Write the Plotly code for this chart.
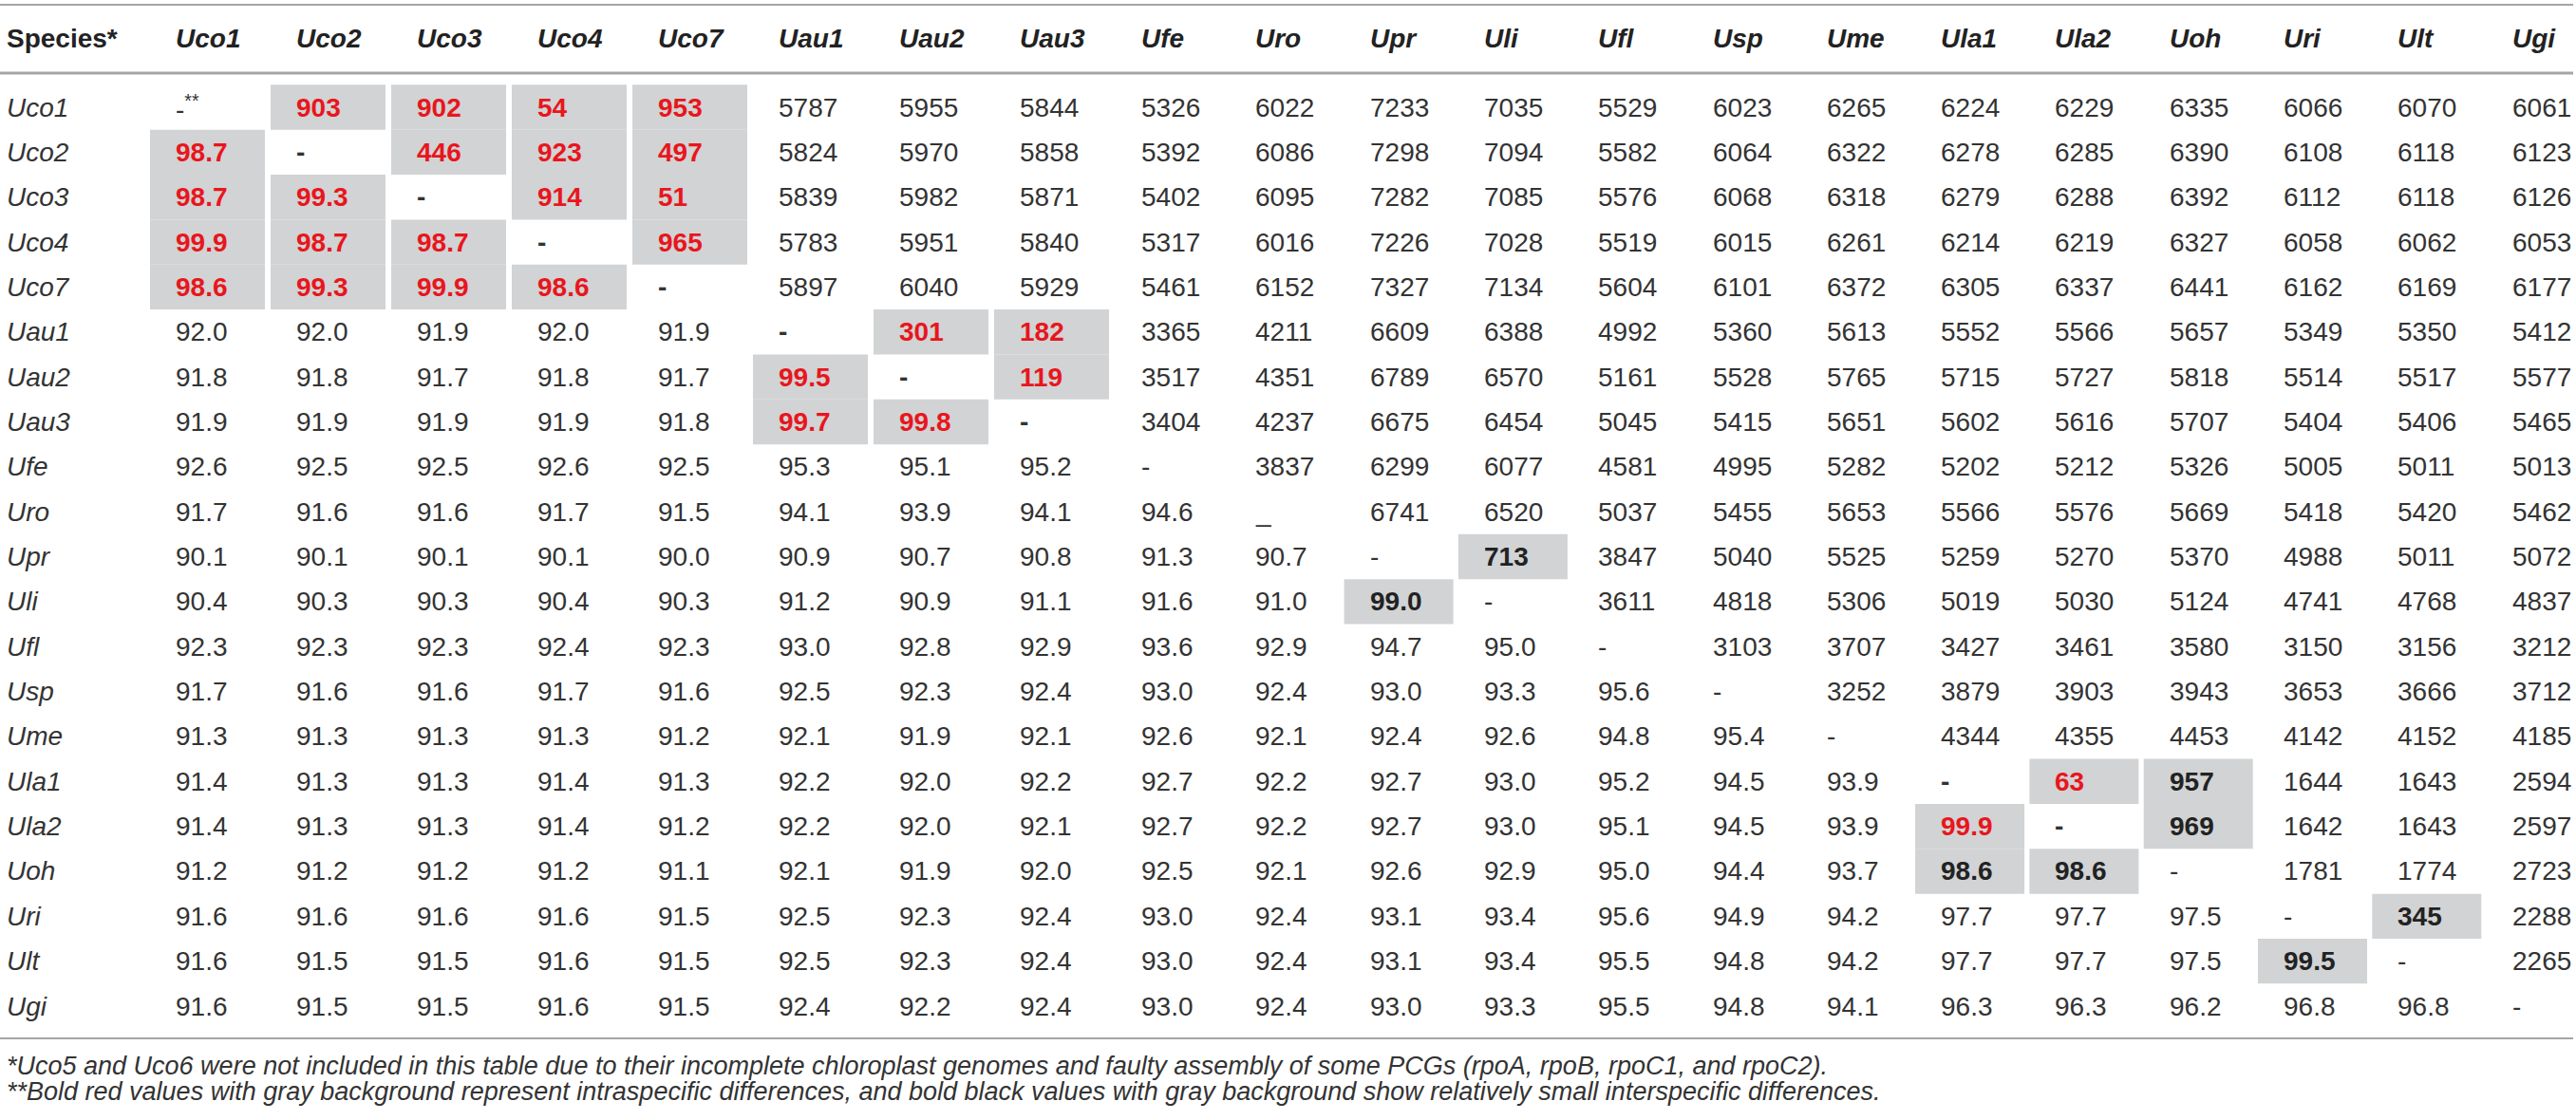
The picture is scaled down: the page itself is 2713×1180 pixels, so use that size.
import plotly.graph_objects as go

# species order (rows and columns)
species = ["Uco1", "Uco2", "Uco3", "Uco4", "Uco7", "Uau1", "Uau2", "Uau3", "Ufe", "Uro",
           "Upr", "Uli", "Ufl", "Usp", "Ume", "Ula1", "Ula2", "Uoh", "Uri", "Ult", "Ugi"]

# lower triangle: identity (%), upper triangle: number of differences
uco1 = ["-**", "903", "902", "54", "953", "5787", "5955", "5844", "5326", "6022", "7233",
        "7035", "5529", "6023", "6265", "6224", "6229", "6335", "6066", "6070", "6061"]
uco2 = ["98.7", "-", "446", "923", "497", "5824", "5970", "5858", "5392", "6086", "7298",
        "7094", "5582", "6064", "6322", "6278", "6285", "6390", "6108", "6118", "6123"]
uco3 = ["98.7", "99.3", "-", "914", "51", "5839", "5982", "5871", "5402", "6095", "7282",
        "7085", "5576", "6068", "6318", "6279", "6288", "6392", "6112", "6118", "6126"]
uco4 = ["99.9", "98.7", "98.7", "-", "965", "5783", "5951", "5840", "5317", "6016", "7226",
        "7028", "5519", "6015", "6261", "6214", "6219", "6327", "6058", "6062", "6053"]
uco7 = ["98.6", "99.3", "99.9", "98.6", "-", "5897", "6040", "5929", "5461", "6152", "7327",
        "7134", "5604", "6101", "6372", "6305", "6337", "6441", "6162", "6169", "6177"]
uau1 = ["92.0", "92.0", "91.9", "92.0", "91.9", "-", "301", "182", "3365", "4211", "6609",
        "6388", "4992", "5360", "5613", "5552", "5566", "5657", "5349", "5350", "5412"]
uau2 = ["91.8", "91.8", "91.7", "91.8", "91.7", "99.5", "-", "119", "3517", "4351", "6789",
        "6570", "5161", "5528", "5765", "5715", "5727", "5818", "5514", "5517", "5577"]
uau3 = ["91.9", "91.9", "91.9", "91.9", "91.8", "99.7", "99.8", "-", "3404", "4237", "6675",
        "6454", "5045", "5415", "5651", "5602", "5616", "5707", "5404", "5406", "5465"]
ufe = ["92.6", "92.5", "92.5", "92.6", "92.5", "95.3", "95.1", "95.2", "-", "3837", "6299",
       "6077", "4581", "4995", "5282", "5202", "5212", "5326", "5005", "5011", "5013"]
uro = ["91.7", "91.6", "91.6", "91.7", "91.5", "94.1", "93.9", "94.1", "94.6", "_", "6741",
       "6520", "5037", "5455", "5653", "5566", "5576", "5669", "5418", "5420", "5462"]
upr = ["90.1", "90.1", "90.1", "90.1", "90.0", "90.9", "90.7", "90.8", "91.3", "90.7", "-",
       "713", "3847", "5040", "5525", "5259", "5270", "5370", "4988", "5011", "5072"]
uli = ["90.4", "90.3", "90.3", "90.4", "90.3", "91.2", "90.9", "91.1", "91.6", "91.0", "99.0",
       "-", "3611", "4818", "5306", "5019", "5030", "5124", "4741", "4768", "4837"]
ufl = ["92.3", "92.3", "92.3", "92.4", "92.3", "93.0", "92.8", "92.9", "93.6", "92.9", "94.7",
       "95.0", "-", "3103", "3707", "3427", "3461", "3580", "3150", "3156", "3212"]
usp = ["91.7", "91.6", "91.6", "91.7", "91.6", "92.5", "92.3", "92.4", "93.0", "92.4", "93.0",
       "93.3", "95.6", "-", "3252", "3879", "3903", "3943", "3653", "3666", "3712"]
ume = ["91.3", "91.3", "91.3", "91.3", "91.2", "92.1", "91.9", "92.1", "92.6", "92.1", "92.4",
       "92.6", "94.8", "95.4", "-", "4344", "4355", "4453", "4142", "4152", "4185"]
ula1 = ["91.4", "91.3", "91.3", "91.4", "91.3", "92.2", "92.0", "92.2", "92.7", "92.2", "92.7",
        "93.0", "95.2", "94.5", "93.9", "-", "63", "957", "1644", "1643", "2594"]
ula2 = ["91.4", "91.3", "91.3", "91.4", "91.2", "92.2", "92.0", "92.1", "92.7", "92.2", "92.7",
        "93.0", "95.1", "94.5", "93.9", "99.9", "-", "969", "1642", "1643", "2597"]
uoh = ["91.2", "91.2", "91.2", "91.2", "91.1", "92.1", "91.9", "92.0", "92.5", "92.1", "92.6",
       "92.9", "95.0", "94.4", "93.7", "98.6", "98.6", "-", "1781", "1774", "2723"]
uri = ["91.6", "91.6", "91.6", "91.6", "91.5", "92.5", "92.3", "92.4", "93.0", "92.4", "93.1",
       "93.4", "95.6", "94.9", "94.2", "97.7", "97.7", "97.5", "-", "345", "2288"]
ult = ["91.6", "91.5", "91.5", "91.6", "91.5", "92.5", "92.3", "92.4", "93.0", "92.4", "93.1",
       "93.4", "95.5", "94.8", "94.2", "97.7", "97.7", "97.5", "99.5", "-", "2265"]
ugi = ["91.6", "91.5", "91.5", "91.6", "91.5", "92.4", "92.2", "92.4", "93.0", "92.4", "93.0",
       "93.3", "95.5", "94.8", "94.1", "96.3", "96.3", "96.2", "96.8", "96.8", "-"]

table_rows = [uco1, uco2, uco3, uco4, uco7, uau1, uau2, uau3, ufe, uro, upr, uli, ufl, usp,
              ume, ula1, ula2, uoh, uri, ult, ugi]

# intraspecific groups (bold red on gray) and close interspecific pairs (bold black on gray)
red_groups = [["Uco1", "Uco2", "Uco3", "Uco4", "Uco7"], ["Uau1", "Uau2", "Uau3"], ["Ula1", "Ula2"]]
black_pairs = [("Upr", "Uli"), ("Ula1", "Uoh"), ("Ula2", "Uoh"), ("Uri", "Ult")]

notes = [
    "*Uco5 and Uco6 were not included in this table due to their incomplete chloroplast genomes "
    "and faulty assembly of some PCGs (rpoA, rpoB, rpoC1, and rpoC2).",
    "**Bold red values with gray background represent intraspecific differences, and bold black "
    "values with gray background show relatively small interspecific differences.",
]

# layout (pixels)
W, H = 2713, 1180
FONT = "Liberation Sans, Arial, sans-serif"
TXT = "#333333"
RED = "#e8161d"
GRAY = "#d1d3d4"
RULE = "#a3a5a8"
LABEL_X = 5
HEAD_Y = 40
ROW0_Y = 113
ROW_H = 47.35
PAD = 25


def col_x(j):
    if j < 8:
        return 183 + 127 * j
    return 1200 + 120.3 * (j - 8)


def box_w(j):
    return 121 if j < 8 else 115


def row_y(i):
    return ROW0_Y + ROW_H * i


def same_group(a, b):
    return any(a in g and b in g for g in red_groups)


def close_pair(a, b):
    return (a, b) in black_pairs or (b, a) in black_pairs


fig = go.Figure()

shapes = []
annotations = []


def add_text(x, y, text, size=28, color=TXT):
    annotations.append(dict(x=x, y=y, xref="x", yref="y", text=text, showarrow=False,
                            xanchor="left", yanchor="middle",
                            font=dict(family=FONT, size=size, color=color)))


# header
add_text(LABEL_X, HEAD_Y, "<b>Species*</b>", color="#222222")
for j, sp in enumerate(species):
    add_text(col_x(j), HEAD_Y, f"<b><i>{sp}</i></b>", color="#222222")

# body
for i, (sp, vals) in enumerate(zip(species, table_rows)):
    y = row_y(i)
    add_text(LABEL_X, y, f"<i>{sp}</i>")
    for j, v in enumerate(vals):
        other = species[j]
        color = TXT
        bold = False
        shaded = False
        if i == j:
            bold = v == "-" and any(sp in g for g in red_groups)
        elif same_group(sp, other):
            color, bold, shaded = RED, True, True
        elif close_pair(sp, other):
            color, bold, shaded = "#222222", True, True
        if shaded:
            x0 = col_x(j) - PAD
            shapes.append(dict(type="rect", xref="x", yref="y", x0=x0, x1=x0 + box_w(j),
                               y0=y - ROW_H / 2, y1=y + ROW_H / 2,
                               fillcolor=GRAY, line=dict(width=0), layer="below"))
        text = v
        if v == "-**":
            text = "-<sup>**</sup>"
        add_text(col_x(j), y, f"<b>{text}</b>" if bold else text, color=color)

# rules
for yy, lw in [(5, 2), (77, 3), (1094, 2)]:
    shapes.append(dict(type="line", xref="x", yref="y", x0=0, x1=2710, y0=yy, y1=yy,
                       line=dict(color=RULE, width=lw)))

# footnotes
for k, note in enumerate(notes):
    add_text(LABEL_X, 1123 + 27 * k, f"<i>{note}</i>", size=27)

fig.update_layout(
    width=W,
    height=H,
    margin=dict(l=0, r=0, t=0, b=0),
    paper_bgcolor="white",
    plot_bgcolor="white",
    shapes=shapes,
    annotations=annotations,
    xaxis=dict(range=[0, W], visible=False, fixedrange=True),
    yaxis=dict(range=[H, 0], visible=False, fixedrange=True),
    showlegend=False,
)

fig.write_html(
    "out.html",
    config={"displayModeBar": False},
    post_script="document.body.style.margin='0px';document.body.style.overflow='hidden';",
)
